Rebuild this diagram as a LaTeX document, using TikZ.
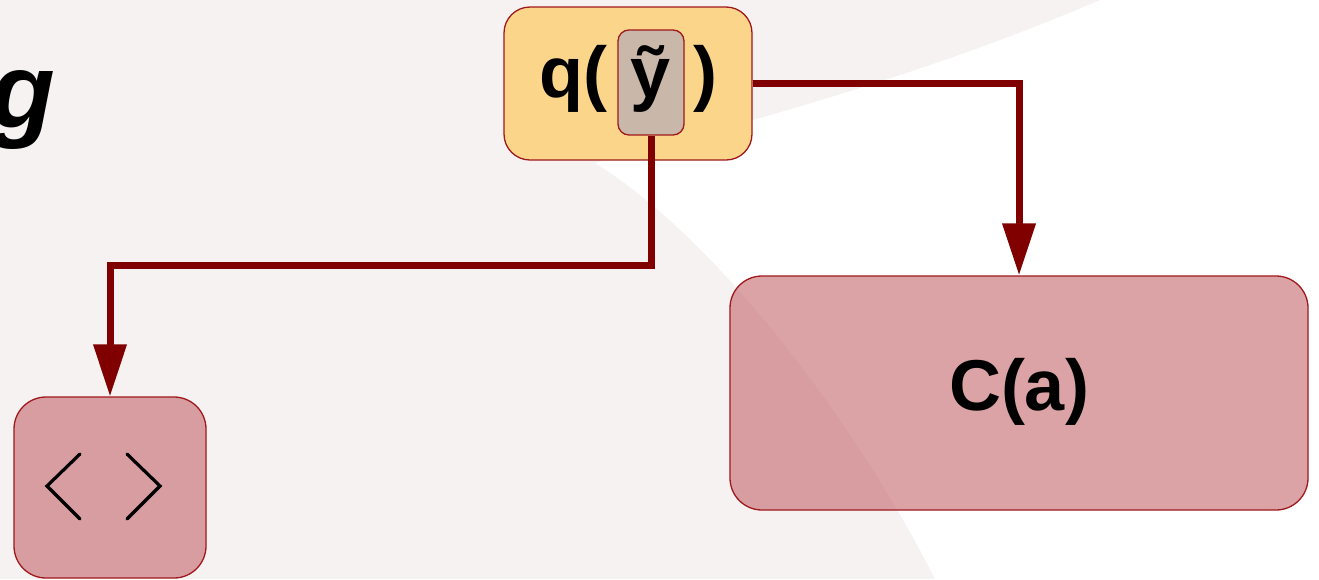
\documentclass[tikz,border=0pt]{standalone}
\usepackage{fontspec}
\setmainfont{Liberation Sans}
\usetikzlibrary{arrows.meta}
\definecolor{bgrey}{RGB}{246,242,242}
\definecolor{linered}{RGB}{128,0,0}
\definecolor{qfill}{RGB}{251,214,138}
\definecolor{yfill}{RGB}{201,183,170}
\definecolor{pinkfill}{RGB}{193,97,102}
\definecolor{edgered}{RGB}{160,24,28}
\tikzset{
  boxbase/.style={draw=edgered, line width=1.3pt, inner sep=0pt},
  qbox/.style={boxbase, fill=qfill, rounded corners=26pt},
  ybox/.style={boxbase, fill=yfill, rounded corners=11pt},
  pinkbox/.style={boxbase, fill=pinkfill, fill opacity=0.58, text opacity=1, rounded corners=32pt},
  bigtxt/.style={inner sep=0pt, font=\fontsize{72}{72}\selectfont\bfseries},
  conn/.style={draw=linered, line width=7pt, -{Triangle[length=52pt,width=32pt]}},
  chev/.style={draw=black, line width=3.2pt, line cap=round, line join=miter}
}
\begin{document}
\begin{tikzpicture}[x=1pt,y=-1pt]
\fill[bgrey] (0,0) rectangle (1319,579);
\fill[white] (1100,0) .. controls (950,65) and (780,115) .. (595,163)
  .. controls (720,240) and (860,430) .. (935,579) -- (1319,579) -- (1319,0) -- cycle;
\useasboundingbox (0,0) rectangle (1319,579);

\node[anchor=base east, inner sep=0pt, font=\fontsize{106}{106}\selectfont\bfseries\itshape] (g) at (55,127) {g};

\node[qbox, minimum width=248pt, minimum height=153pt] (q) at (628,83.5) {};
\node[ybox, minimum width=66pt, minimum height=105pt] (yt) at (651,82.5) {};
\node[bigtxt, anchor=base west] (qopen) at (539,97) {q(};
\node[bigtxt, anchor=base] (ytxt) at (651,97) {ỹ};
\node[bigtxt, anchor=base west] (qclose) at (693,97) {)};

\node[pinkbox, minimum width=578pt, minimum height=234pt] (C) at (1019,393) {};
\node[bigtxt, anchor=base] (Ctxt) at (1019,410) {C(a)};
\node[pinkbox, minimum width=192pt, minimum height=181pt] (L) at (110,487.5) {};
\draw[chev] ([shift={(-30,-33.5)}]L.center) -- ([shift={(-63,-1.5)}]L.center) -- ([shift={(-30,31.5)}]L.center);
\draw[chev] ([shift={(17,-33.5)}]L.center) -- ([shift={(50,-1.5)}]L.center) -- ([shift={(17,31.5)}]L.center);

\coordinate (bend) at (651,265);
\draw[conn] (q.east) -- (q.east -| C.north) -- (C.north);
\draw[conn] (yt.south) -- (bend) -| (L.north);
\end{tikzpicture}
\end{document}
